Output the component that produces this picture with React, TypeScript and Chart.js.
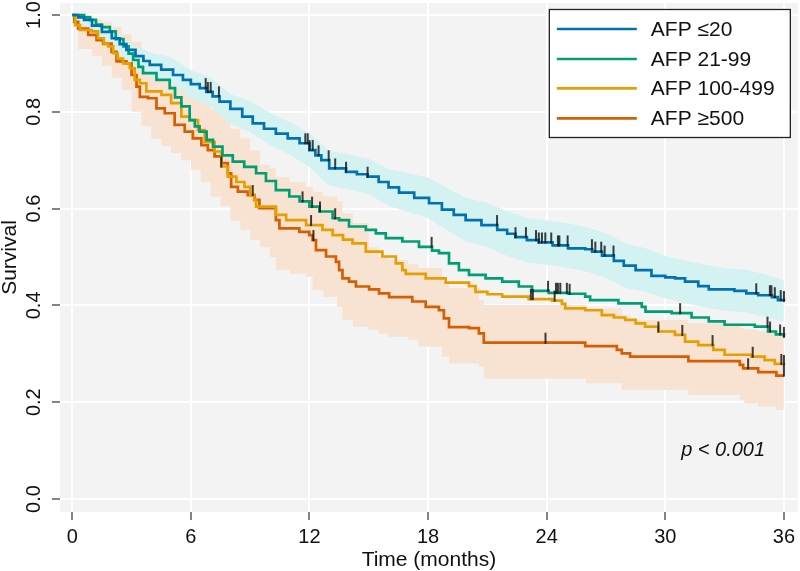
import React, { useEffect, useRef } from 'react';
import { Chart, registerables } from 'chart.js';

Chart.register(...registerables);

const FONT = '"Liberation Sans", Arial, Helvetica, sans-serif';

const groupLabels = ['AFP ≤20', 'AFP 21-99', 'AFP 100-499', 'AFP ≥500'];
const groupColors = ['#0072B2', '#009E73', '#E69F00', '#D55E00'];

const xTickValues = [0, 6, 12, 18, 24, 30, 36];
const yTickValues = [0, 0.2, 0.4, 0.6, 0.8, 1.0];

// AFP <=20
const timeG1 = [0,0.3,0.6,1.0,1.5,2.0,2.4,2.74,3.2,3.6,3.92,4.5,5.1,5.6,6.0,6.45,6.78,7.1,7.45,8.0,8.6,9.13,9.7,10.3,10.9,11.5,12.0,12.3,12.6,13.0,13.85,14.4,14.94,15.5,16.0,16.53,17.3,18.05,18.7,19.3,19.9,20.7,21.5,22.0,22.42,23.0,23.6,24.3,25.08,25.95,26.3,26.8,27.4,27.9,28.5,29.3,30.0,30.5,31.0,31.67,32.2,33.5,34.1,34.7,35.4,35.7,36.0];
const survG1 = [1,0.995,0.99,0.978,0.965,0.952,0.94,0.928,0.915,0.905,0.897,0.887,0.876,0.866,0.857,0.849,0.841,0.832,0.821,0.806,0.79,0.776,0.765,0.755,0.745,0.735,0.721,0.71,0.7,0.683,0.676,0.671,0.666,0.655,0.644,0.633,0.622,0.611,0.598,0.587,0.576,0.566,0.556,0.548,0.541,0.535,0.53,0.524,0.518,0.516,0.511,0.503,0.492,0.482,0.473,0.461,0.458,0.456,0.449,0.44,0.433,0.43,0.425,0.421,0.417,0.411,0.409];
const censorG1 = [6.75,6.86,7.0,7.42,11.79,11.91,12.0,12.16,12.46,12.97,13.3,13.85,14.94,21.49,22.42,22.95,23.46,23.6,23.76,23.93,24.23,24.57,24.64,25.06,26.29,26.46,26.76,26.93,27.38,34.6,35.29,35.37,35.54,35.84,36.0];

// AFP 21-99
const timeG2 = [0,0.6,0.9,1.2,1.5,1.9,2.2,2.59,2.85,3.08,3.35,3.58,4.26,4.93,5.2,5.52,5.94,6.2,6.44,6.8,7.12,7.6,8.12,8.7,9.3,9.8,10.3,10.98,11.5,12.0,12.5,13.17,13.5,14.0,14.85,15.36,15.86,16.7,17.54,18.2,18.55,19.06,19.56,20.07,20.91,21.75,22.59,23.26,24.1,25.1,25.95,26.2,27.63,28.81,29.0,30.32,31.33,32.2,33.0,34.53,35.2,35.6,36.0];
const survG2 = [1,0.995,0.99,0.98,0.975,0.966,0.95,0.935,0.92,0.907,0.893,0.88,0.866,0.849,0.83,0.811,0.783,0.77,0.759,0.742,0.728,0.71,0.697,0.686,0.673,0.657,0.638,0.625,0.615,0.604,0.594,0.58,0.576,0.563,0.556,0.549,0.539,0.532,0.521,0.513,0.508,0.487,0.473,0.463,0.456,0.449,0.439,0.43,0.426,0.424,0.418,0.411,0.404,0.397,0.387,0.384,0.375,0.367,0.36,0.356,0.346,0.34,0.335];
const censorG2 = [11.65,12.13,12.53,13.3,18.18,24.07,24.47,24.57,24.69,25.02,25.16,30.75,35.17,35.3,35.81,36.0];

// AFP 100-499
const timeG3 = [0,0.15,0.39,0.98,1.3,1.6,1.82,2.07,2.3,2.57,2.91,3.16,3.42,3.75,4.51,5.0,5.52,5.94,6.36,6.7,7.2,7.54,7.87,8.3,8.71,9.0,9.2,9.3,10.3,10.82,11.83,12.66,13.17,13.7,14.18,14.85,15.69,16.37,16.7,16.87,17.88,18.89,20.07,20.4,21.0,21.75,23.09,24.27,24.77,24.94,25.95,26.79,27.4,27.97,28.5,28.98,29.65,30.49,31.0,31.67,32.43,33.0,34.36,35.03,35.54,36.0];
const survG3 = [1,0.979,0.969,0.966,0.952,0.94,0.935,0.921,0.91,0.9,0.89,0.866,0.859,0.842,0.835,0.818,0.79,0.783,0.762,0.738,0.718,0.687,0.666,0.655,0.645,0.628,0.618,0.604,0.587,0.576,0.566,0.556,0.545,0.536,0.528,0.511,0.501,0.487,0.473,0.465,0.456,0.447,0.44,0.428,0.423,0.418,0.413,0.41,0.403,0.394,0.39,0.38,0.375,0.37,0.363,0.356,0.346,0.339,0.325,0.318,0.308,0.298,0.294,0.287,0.279,0.277];
const censorG3 = [7.54,9.13,12.08,23.2,23.3,24.4,29.65,30.86,32.39,34.42,35.87,36.0];

// AFP >=500
const timeG4 = [0,0.1,0.3,0.81,1.23,1.56,1.99,2.24,2.74,3.0,3.25,3.42,3.83,4.26,4.68,5.18,5.69,6.1,6.53,6.86,7.2,7.54,7.87,8.04,8.38,8.88,9.22,9.47,10.3,10.48,11.49,11.99,12.16,12.33,12.84,13.34,13.5,13.67,14.0,14.35,15.02,15.52,16.03,17.2,17.88,18.55,18.8,19.06,20.07,20.57,20.82,25.95,27.55,27.8,28.22,31.17,33.77,33.94,34.7,35.62,36.0];
const survG4 = [1,0.986,0.972,0.959,0.948,0.941,0.924,0.904,0.9,0.876,0.852,0.831,0.828,0.807,0.797,0.773,0.759,0.745,0.731,0.721,0.708,0.694,0.673,0.645,0.635,0.628,0.618,0.601,0.576,0.559,0.552,0.545,0.535,0.514,0.501,0.49,0.473,0.456,0.449,0.439,0.433,0.425,0.417,0.408,0.397,0.39,0.373,0.355,0.353,0.342,0.323,0.316,0.308,0.301,0.294,0.285,0.277,0.27,0.262,0.255,0.255];
const censorG4 = [12.2,23.94,34.19,36.0];

// 95% CI band, AFP <=20
const ciTimeG1 = [0,1,2,3,4,5,6,7,8,9,10,11,12,13,14,15,16,17,18,19,20,21,22,23,24,25,26,27,28,29,30,31,32,33,34,35,36];
const ciUpperG1 = [1.0,0.99,0.97,0.94,0.922,0.913,0.886,0.871,0.837,0.822,0.798,0.779,0.756,0.719,0.712,0.703,0.682,0.673,0.664,0.642,0.621,0.612,0.594,0.581,0.576,0.57,0.562,0.549,0.528,0.518,0.502,0.493,0.484,0.477,0.474,0.465,0.452];
const ciLowerG1 = [1.0,0.965,0.934,0.895,0.872,0.86,0.828,0.811,0.775,0.758,0.732,0.711,0.686,0.647,0.64,0.629,0.606,0.593,0.58,0.554,0.531,0.52,0.502,0.489,0.484,0.478,0.47,0.457,0.436,0.428,0.414,0.405,0.396,0.389,0.386,0.377,0.366];

// 95% CI band, AFP >=500
const ciTimeG4 = [0,0.3,1,1.5,2,2.5,3,3.5,4,4.5,5,5.5,6,6.5,7,7.5,8,8.5,9,9.5,10,10.3,11,11.8,12.16,12.7,13.4,13.67,14.2,15,15.5,16,17,17.5,18.7,19.06,20.57,20.82,26,27.8,28.2,31.17,33.77,34,34.7,35.6,36];
const ciUpperG4 = [1.0,1.0,0.99,0.985,0.975,0.96,0.945,0.92,0.9,0.89,0.87,0.855,0.84,0.82,0.805,0.79,0.765,0.745,0.72,0.69,0.683,0.665,0.655,0.645,0.635,0.625,0.615,0.59,0.57,0.52,0.5,0.494,0.485,0.477,0.449,0.436,0.411,0.401,0.394,0.38,0.37,0.363,0.353,0.35,0.346,0.342,0.342];
const ciLowerG4 = [1.0,0.93,0.915,0.895,0.87,0.845,0.8,0.77,0.745,0.73,0.715,0.7,0.68,0.655,0.625,0.605,0.575,0.556,0.535,0.52,0.5,0.473,0.466,0.459,0.432,0.418,0.397,0.37,0.356,0.35,0.342,0.335,0.329,0.315,0.294,0.28,0.273,0.249,0.239,0.225,0.225,0.215,0.205,0.198,0.191,0.184,0.184];

const pValueText = 'p < 0.001';

function toPoints(t: number[], s: number[]) {
  const n = Math.min(t.length, s.length);
  const out: { x: number; y: number }[] = [];
  for (let i = 0; i < n; i++) out.push({ x: t[i], y: s[i] });
  return out;
}

function survAt(t: number[], s: number[], tc: number) {
  let v = s[0];
  for (let i = 0; i < t.length; i++) if (t[i] <= tc + 1e-9) v = s[i];
  return v;
}

function censorPoints(t: number[], s: number[], c: number[]) {
  return c.map((tc) => ({ x: tc, y: survAt(t, s, tc) }));
}

export default function App() {
  const canvasRef = useRef<HTMLCanvasElement | null>(null);

  useEffect(() => {
    if (!canvasRef.current) return;

    const tick = document.createElement('canvas');
    tick.width = 4;
    tick.height = 22;
    const tctx = tick.getContext('2d')!;
    tctx.fillStyle = '#111111';
    tctx.fillRect(1.2, 1, 1.6, 11);

    const curves = [
      [timeG1, survG1, censorG1],
      [timeG2, survG2, censorG2],
      [timeG3, survG3, censorG3],
      [timeG4, survG4, censorG4],
    ] as const;

    const lineSets: any[] = curves.map(([t, s], i) => ({
      label: groupLabels[i],
      data: toPoints(t as number[], s as number[]),
      borderColor: groupColors[i],
      backgroundColor: groupColors[i],
      borderWidth: 2.7,
      stepped: true,
      pointRadius: 0,
      fill: false,
      order: 1,
    }));

    const censorSets: any[] = curves.map(([t, s, c], i) => ({
      label: 'censor-' + i,
      data: censorPoints(t as number[], s as number[], c as number[]),
      showLine: false,
      pointStyle: tick,
      pointRadius: 5,
      borderColor: '#111',
      backgroundColor: '#111',
      order: 0,
    }));

    const bandSets: any[] = [
      {
        label: 'ci-upper-1',
        data: toPoints(ciTimeG1, ciUpperG1),
        borderWidth: 0,
        borderColor: 'rgba(0,0,0,0)',
        pointRadius: 0,
        fill: false,
        order: 10,
      },
      {
        label: 'ci-lower-1',
        data: toPoints(ciTimeG1, ciLowerG1),
        borderWidth: 0,
        borderColor: 'rgba(0,0,0,0)',
        backgroundColor: '#d4f2f2',
        pointRadius: 0,
        fill: '-1',
        order: 10,
      },
      {
        label: 'ci-upper-4',
        data: toPoints(ciTimeG4, ciUpperG4),
        borderWidth: 0,
        borderColor: 'rgba(0,0,0,0)',
        pointRadius: 0,
        stepped: true,
        fill: false,
        order: 11,
      },
      {
        label: 'ci-lower-4',
        data: toPoints(ciTimeG4, ciLowerG4),
        borderWidth: 0,
        borderColor: 'rgba(0,0,0,0)',
        backgroundColor: '#f8e2d1',
        pointRadius: 0,
        stepped: true,
        fill: '-1',
        order: 11,
      },
    ];

    const panelPlugin = {
      id: 'panelBg',
      beforeDraw(chart: any) {
        const { ctx, chartArea } = chart;
        ctx.save();
        ctx.fillStyle = '#f3f3f3';
        ctx.fillRect(chartArea.left, chartArea.top, chartArea.right - chartArea.left, chartArea.bottom - chartArea.top);
        ctx.restore();
      },
    };

    const decorPlugin = {
      id: 'decor',
      afterDraw(chart: any) {
        const { ctx, chartArea } = chart;
        const xs = chart.scales.x;
        const ys = chart.scales.y;
        ctx.save();
        ctx.fillStyle = '#111';
        ctx.font = `20px ${FONT}`;
        ctx.textAlign = 'center';
        ctx.textBaseline = 'middle';
        yTickValues.forEach((v) => {
          const py = ys.getPixelForValue(v);
          ctx.save();
          ctx.translate(chartArea.left - 26, py);
          ctx.rotate(-Math.PI / 2);
          ctx.fillText(v.toFixed(1), 0, 0);
          ctx.restore();
        });

        ctx.font = `italic 20px ${FONT}`;
        ctx.textAlign = 'right';
        ctx.textBaseline = 'middle';
        ctx.fillText(pValueText, xs.getPixelForValue(35.05), ys.getPixelForValue(0.1));

        const bx = chartArea.right - 249;
        const by = chartArea.top + 6;
        const bw = 242;
        const bh = 129;
        ctx.fillStyle = '#ffffff';
        ctx.fillRect(bx, by, bw, bh);
        ctx.strokeStyle = '#222';
        ctx.lineWidth = 1.3;
        ctx.strokeRect(bx + 0.5, by + 0.5, bw - 1, bh - 1);
        const rows = [20, 50, 79.3, 109.3];
        ctx.font = `21px ${FONT}`;
        ctx.textAlign = 'left';
        ctx.textBaseline = 'middle';
        groupLabels.forEach((lab, i) => {
          const ry = by + rows[i];
          ctx.strokeStyle = groupColors[i];
          ctx.lineWidth = 2.7;
          ctx.beginPath();
          ctx.moveTo(bx + 8, ry);
          ctx.lineTo(bx + 88, ry);
          ctx.stroke();
          ctx.fillStyle = '#111';
          ctx.fillText(lab, bx + 102, ry + 1);
        });
        ctx.restore();
      },
    };

    const chart = new Chart(canvasRef.current, {
      type: 'line',
      data: { datasets: [...censorSets, ...lineSets, ...bandSets] },
      options: {
        animation: false,
        responsive: false,
        maintainAspectRatio: false,
        devicePixelRatio: 1,
        layout: { autoPadding: false, padding: { top: 3, right: 0, left: 0, bottom: 0 } },
        plugins: {
          legend: { display: false },
          tooltip: { enabled: false },
          title: { display: false },
        },
        scales: {
          x: {
            type: 'linear',
            min: -0.62,
            max: 36.706,
            afterBuildTicks: (s: any) => {
              s.ticks = xTickValues.map((v) => ({ value: v }));
            },
            afterFit: (s: any) => {
              s.height = 59;
            },
            grid: { color: '#ffffff', lineWidth: 2, drawTicks: true, tickLength: 8, tickColor: '#333', tickWidth: 1.2 },
            border: { display: false },
            ticks: { color: '#111', font: { size: 20, family: FONT }, padding: 5, maxRotation: 0, autoSkip: false },
            title: {
              display: true,
              text: 'Time (months)',
              color: '#111',
              font: { size: 21, family: FONT, lineHeight: 1 },
              padding: { top: 0, bottom: 0 },
            },
          },
          y: {
            type: 'linear',
            min: -0.0269,
            max: 1.0248,
            afterBuildTicks: (s: any) => {
              s.ticks = yTickValues.map((v) => ({ value: v }));
            },
            afterFit: (s: any) => {
              s.width = 60;
            },
            grid: { color: '#ffffff', lineWidth: 2, drawTicks: true, tickLength: 8, tickColor: '#333', tickWidth: 1.2 },
            border: { display: false },
            ticks: { display: false },
            title: {
              display: true,
              text: 'Survival',
              color: '#111',
              font: { size: 21, family: FONT, lineHeight: 1 },
              padding: { top: 0, bottom: 0 },
            },
          },
        },
      } as any,
      plugins: [panelPlugin, decorPlugin],
    });

    return () => chart.destroy();
  }, []);

  return (
    <div style={{ position: 'fixed', left: 0, top: 0, width: 800, height: 571, background: '#ffffff' }}>
      <canvas ref={canvasRef} width={800} height={571} style={{ display: 'block', width: 800, height: 571 }} />
    </div>
  );
}
